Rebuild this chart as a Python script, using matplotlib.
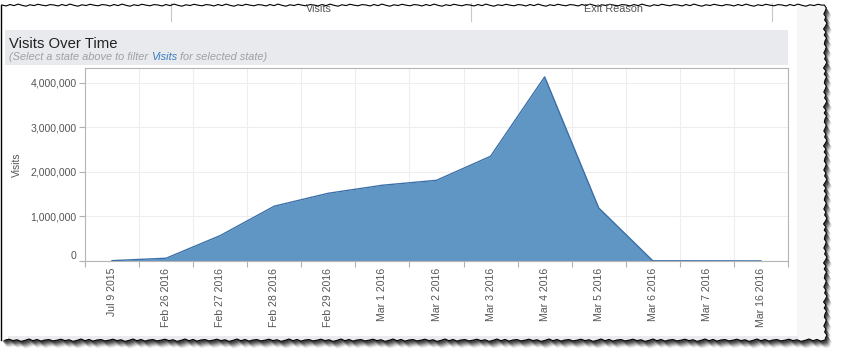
import numpy as np
import matplotlib
matplotlib.use("Agg")
import matplotlib.pyplot as plt
from matplotlib.patches import Polygon, Rectangle
from matplotlib.ticker import FuncFormatter, FixedLocator

plt.rcParams['font.family'] = ['Liberation Sans', 'DejaVu Sans']

# data
dates = ['Jul 9 2015', 'Feb 26 2016', 'Feb 27 2016', 'Feb 28 2016', 'Feb 29 2016',
         'Mar 1 2016', 'Mar 2 2016', 'Mar 3 2016', 'Mar 4 2016', 'Mar 5 2016',
         'Mar 6 2016', 'Mar 7 2016', 'Mar 16 2016']
visits = [8000, 62000, 570000, 1230000, 1520000, 1700000, 1810000,
          2350000, 4130000, 1190000, 4000, 3000, 1000]
y_ticks = [0, 1000000, 2000000, 3000000, 4000000]

W, H = 845, 360
fig = plt.figure(figsize=(W / 100, H / 100), dpi=100)
fig.patch.set_facecolor('white')

# background layer in pixel coords
bg = fig.add_axes([0, 0, 1, 1], zorder=0)
bg.set_xlim(0, W)
bg.set_ylim(H, 0)
bg.axis('off')

# torn paper edge
wig = np.array([0, 1.2, -0.6, 0.8, -1.1, 0.4, 1.5, -0.3, 0.7, -0.9, 0.2, 1.0, -0.5])
top_x = np.arange(2, 826, 4.0)
top_y = 5 + np.resize(wig, len(top_x)) * 0.8
right_y = np.arange(5, 341, 3.0)
right_x = 825 + np.resize(wig[::-1], len(right_y)) * 1.3
bot_x = np.arange(825, 1, -4.0)
bot_y = 340 + np.resize(wig, len(bot_x)) * 0.9
px = np.concatenate([[1.5], top_x, right_x, bot_x, [1.5]])
py = np.concatenate([[5], top_y, right_y, bot_y, [340]])
pts = np.column_stack([px, py])

for k, a in zip([7, 6, 5, 4, 3, 2], [0.10, 0.15, 0.2, 0.28, 0.36, 0.45]):
    bg.add_patch(Polygon(pts + [k * 0.7, k], closed=True, facecolor='#222222',
                         edgecolor='none', alpha=a))
paper = Polygon(pts, closed=True, facecolor='white', edgecolor='none')
bg.add_patch(paper)

# side strips
r = Rectangle((797, 0), 40, 360, facecolor='#f6f6f6', edgecolor='none')
bg.add_patch(r)
r.set_clip_path(paper)
r = Rectangle((8, 336), 790, 10, facecolor='#ececf0', edgecolor='none')
bg.add_patch(r)
r.set_clip_path(paper)

# header strip of the dashboard above
for xv in [171, 471, 772]:
    bg.plot([xv, xv], [3, 21], color='#c8c8c8', lw=0.8)
for txt, xv in [('Visits', 319), ('Exit Reason', 614)]:
    t = bg.text(xv, 9, txt, ha='center', va='center', fontsize=7.8, color='#555555')
    t.set_clip_path(paper)

# title band
bg.add_patch(Rectangle((5, 30), 783, 35, facecolor='#e9eaee', edgecolor='none'))
bg.text(9, 44, 'Visits Over Time', ha='left', va='center', fontsize=10.7, color='#222222')

renderer = fig.canvas.get_renderer()
xpos = 9
for seg, col in [('(Select a state above to filter ', '#a0a0a0'), ('Visits', '#3b7cbf'),
                 (' for selected state)', '#a0a0a0')]:
    t = bg.text(xpos, 57, seg, ha='left', va='center', fontsize=7.9, color=col,
                style='italic')
    bb = t.get_window_extent(renderer)
    xpos += bb.width

bg.plot([px[0], px[0]], [5, 340], color='black', lw=1)
bg.plot(np.concatenate([top_x, right_x, bot_x]),
        np.concatenate([top_y, right_y, bot_y]), color='black', lw=0.8)

# chart
left, right, top, bottom = 85, 788, 68, 261
ax = fig.add_axes([left / W, (H - bottom) / H, (right - left) / W, (bottom - top) / H], zorder=1)
ax.set_facecolor('white')
x = np.arange(len(dates))
ax.fill_between(x, visits, 0, color='#6096c3', linewidth=0, zorder=2)
ax.plot(x, visits, color='#3a6fa9', lw=1, zorder=3)

ax.set_xlim(-0.5, len(dates) - 0.5)
ax.set_ylim(0, 4330000)
ax.xaxis.set_major_locator(FixedLocator(x))
ax.set_xticklabels(dates, rotation=90, fontsize=7.6, color='#555555')
ax.xaxis.set_minor_locator(FixedLocator(np.arange(len(dates) + 1) - 0.5))
ax.tick_params(axis='x', which='major', length=0, pad=5)
ax.tick_params(axis='x', which='minor', length=4, color='#b0b0b0', width=0.8)
ax.set_yticks(y_ticks)
ax.yaxis.set_major_formatter(FuncFormatter(lambda v, p: f'{int(v):,}'))
ax.tick_params(axis='y', length=4, color='#b0b0b0', width=0.8, labelsize=7.6,
               labelcolor='#555555', pad=2)
for lab in ax.get_yticklabels():
    if lab.get_text() == '0':
        lab.set_va('bottom')
ax.grid(True, which='minor', axis='x', color='#eeeeee', lw=0.8, zorder=0)
ax.grid(True, which='major', axis='y', color='#eeeeee', lw=0.8, zorder=0)
ax.set_axisbelow(True)
for s in ax.spines.values():
    s.set_color('#b5b5b5')
    s.set_linewidth(0.8)
ax.set_ylabel('Visits', fontsize=7.4, color='#555555', labelpad=0)
ax.yaxis.set_label_coords((22 - left) / (right - left), 0.5)

fig.savefig('out.png', dpi=100, facecolor='white')
